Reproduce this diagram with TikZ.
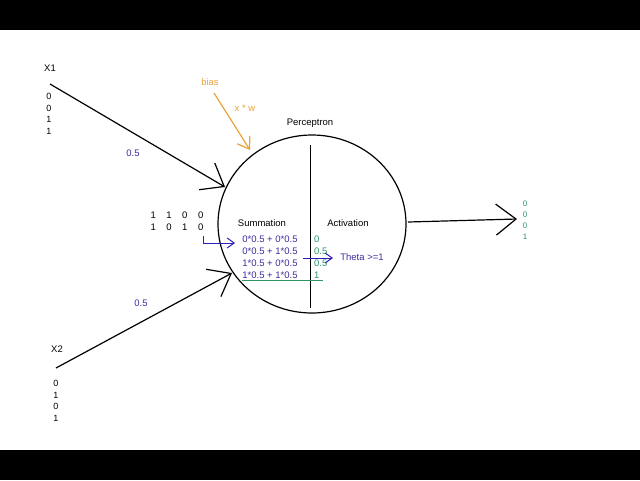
\documentclass[tikz,border=0pt]{standalone}
\usepackage{fontspec}
\setmainfont{Liberation Sans}
\usetikzlibrary{arrows.meta,shapes.geometric}
\definecolor{sumblue}{HTML}{3A2E9E}
\definecolor{arrblue}{HTML}{2B1DB8}
\definecolor{actgreen}{HTML}{2E9466}
\definecolor{biasorange}{HTML}{E9A23B}
\tikzset{
  lbl/.style={font=\fontsize{9.5}{11.5}\selectfont, inner sep=0pt},
  digits/.style={inner sep=0pt, align=center, font=\fontsize{9}{11.5}\selectfont},
  wire/.style={line width=1.2pt},
  inarrow/.style={wire, -{Straight Barb[length=20pt,width=31pt]}},
  smallarrow/.style={line width=1pt, arrblue, -{Straight Barb[length=7pt,width=10pt]}},
}
\begin{document}
\begin{tikzpicture}[x=1pt,y=-1pt]
\useasboundingbox (0,0) rectangle (640,480);
\fill[black] (0,0) rectangle (640,30);
\fill[black] (0,450) rectangle (640,480);

% the perceptron
\node[draw, wire, ellipse, inner sep=0pt, minimum width=188pt, minimum height=178pt] (neuron) at (312,224) {};
\coordinate (splittop) at (310.5,145);
\coordinate (splitbot) at (310.5,308);
\draw[line width=1.1pt] (splittop) -- (splitbot);
\node[lbl] (title) at (310,123) {Perceptron};
\node[lbl] (sumlbl) at (262,223) {Summation};
\node[lbl] (actlbl) at (348,223) {Activation};

% inputs
\node[lbl] (x1lbl) at (50,68) {X1};
\node[digits] (x1vals) at (49,114) {0\\0\\1\\1};
\coordinate (x1start) at (50,84);
\coordinate (x1tip) at (225,187);
\draw[inarrow] (x1start) -- (x1tip);
\node[lbl, sumblue] (w1) at (133,153) {0.5};

\node[lbl] (x2lbl) at (57,349) {X2};
\node[digits] (x2vals) at (56,401) {0\\1\\0\\1};
\coordinate (x2start) at (56,368);
\coordinate (x2tip) at (232,273);
\draw[inarrow] (x2start) -- (x2tip);
\node[lbl, sumblue] (w2) at (141,303) {0.5};

\node[lbl] (pairs1) at (177,215) {1\hspace{10.5pt}1\hspace{10.5pt}0\hspace{10.5pt}0};
\node[lbl] (pairs2) at (177,227) {1\hspace{10.5pt}0\hspace{10.5pt}1\hspace{10.5pt}0};

% bias
\node[lbl, biasorange] (bias) at (210,82) {bias};
\node[lbl, biasorange] (xw) at (245,108) {x * w};
\coordinate (biasstart) at (214,93);
\coordinate (biastip) at (250,150);
\draw[wire, biasorange, -{Straight Barb[length=11pt,width=15pt]}] (biasstart) -- (biastip);

% summation
\node[lbl, sumblue] (eq1) at (270,239) {0*0.5 + 0*0.5};
\node[lbl, sumblue] (eq2) at (270,251) {0*0.5 + 1*0.5};
\node[lbl, sumblue] (eq3) at (270,263) {1*0.5 + 0*0.5};
\node[lbl, sumblue] (eq4) at (270,275) {1*0.5 + 1*0.5};
\coordinate (feedstart) at (203,236);
\coordinate (feedtip) at (235,243);
\draw[smallarrow] (feedstart) |- (feedtip);

% activation
\node[lbl, actgreen, anchor=west] (s1) at (314,239) {0};
\node[lbl, actgreen, anchor=west] (s2) at (314,251) {0.5};
\node[lbl, actgreen, anchor=west] (s3) at (314,263) {0.5};
\node[lbl, actgreen, anchor=west] (s4) at (314,275) {1};
\coordinate (ulstart) at (242,280);
\coordinate (ulend) at (323,280);
\draw[line width=1pt, actgreen] (ulstart) -- (ulend);
\node[lbl, sumblue] (theta) at (362,257) {Theta >=1};
\coordinate (thstart) at (303,258);
\coordinate (thtip) at (333,258);
\draw[smallarrow] (thstart) -- (thtip);

% output
\coordinate (outstart) at (408,222);
\coordinate (outtip) at (517,219);
\draw[inarrow] (outstart) -- (outtip);
\node[digits, font=\fontsize{8}{11}\selectfont, actgreen] (outvals) at (525,220) {0\\0\\0\\1};
\end{tikzpicture}
\end{document}
